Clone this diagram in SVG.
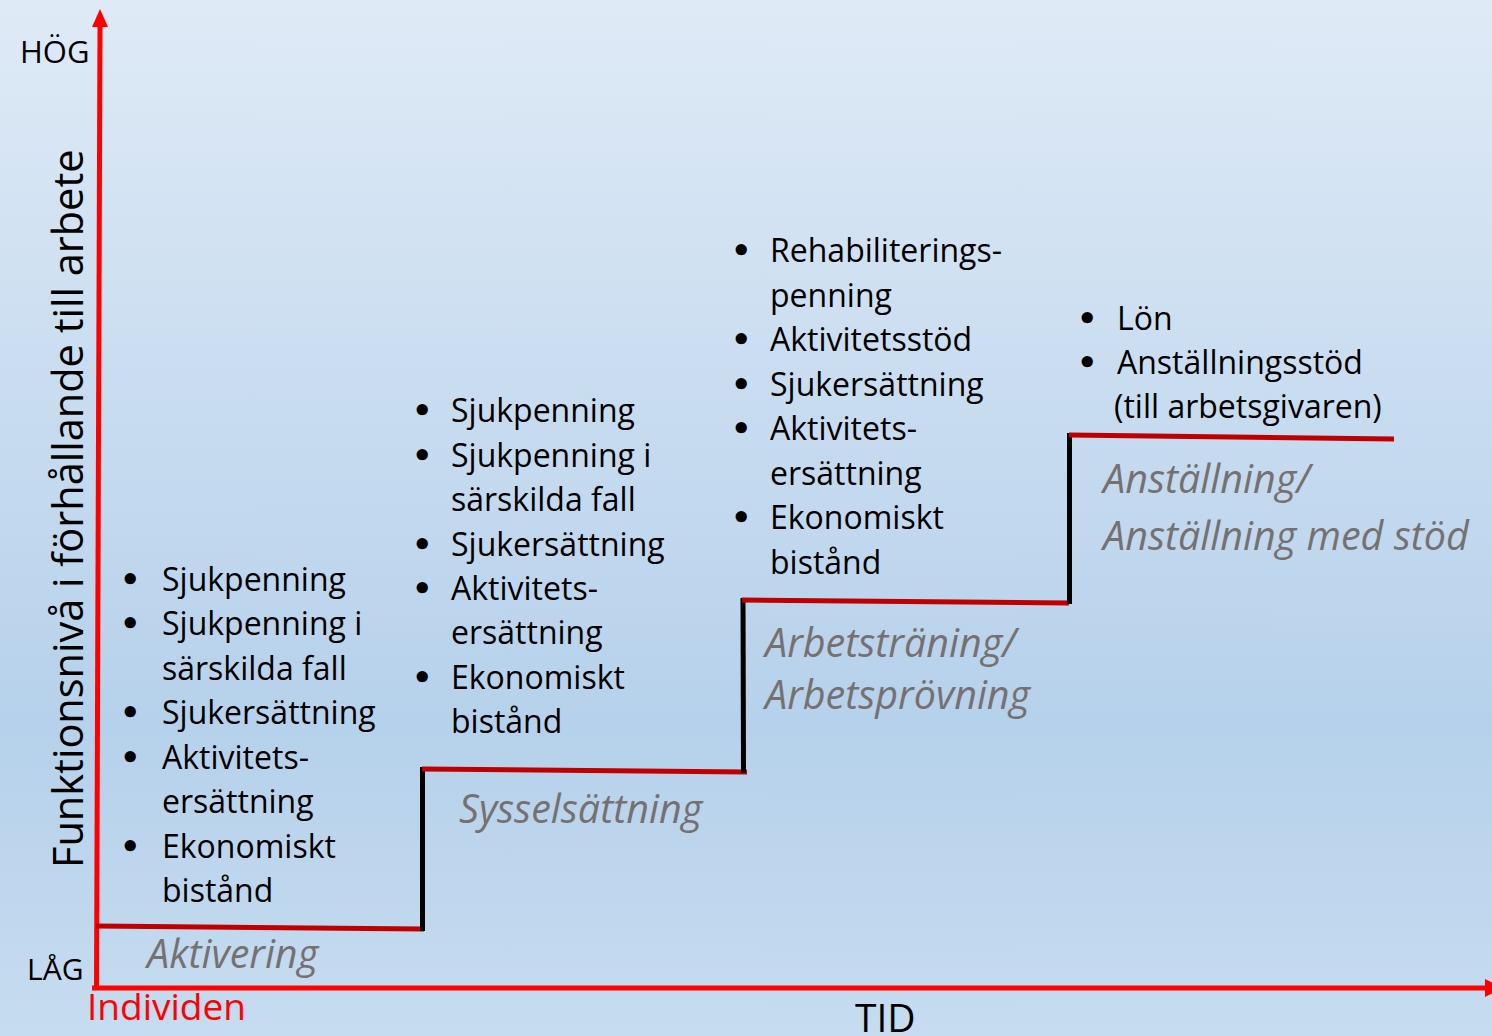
<svg xmlns="http://www.w3.org/2000/svg" width="1492" height="1036" viewBox="0 0 1492 1036">
<defs>
<linearGradient id="bg" x1="0" y1="0" x2="0" y2="1">
<stop offset="0" stop-color="#DFEAF6"/>
<stop offset="0.7" stop-color="#B6D1EB"/>
<stop offset="1" stop-color="#C6DCF0"/>
</linearGradient>
<style>
.t{font-family:"Open Sans","Noto Sans","Liberation Sans",sans-serif;fill:#000;}
.b{font-size:32px;}
.bu{font-family:"DejaVu Sans",sans-serif;font-weight:bold;}
.i{font-size:39.5px;font-style:italic;fill:#767171;}
.axis{stroke:#FF0000;stroke-width:5;fill:none;}
.step{stroke:#C00000;stroke-width:5;fill:none;}
.riser{stroke:#000;stroke-width:5;fill:none;}
</style>
</defs>
<rect width="1492" height="1036" fill="url(#bg)"/>
<g id="connectors">
<line class="axis" x1="96.5" y1="989" x2="100" y2="24"/>
<polygon points="100,9 92,27 108,27" fill="#FF0000"/>
<line class="axis" x1="92" y1="988" x2="1487" y2="988"/>
<polygon points="1485,979 1485,997 1503,988" fill="#FF0000"/>
<line class="step" x1="96" y1="926" x2="424" y2="929"/>
<line class="riser" x1="422.5" y1="767" x2="422.5" y2="931"/>
<line class="step" x1="422" y1="769" x2="747" y2="772"/>
<line class="riser" x1="743" y1="598" x2="743.5" y2="773"/>
<line class="step" x1="742" y1="600" x2="1069" y2="603"/>
<line class="riser" x1="1069.5" y1="433" x2="1069.5" y2="604"/>
<line class="step" x1="1069" y1="435" x2="1394" y2="439"/>
</g>
<g id="y-axis-labels">
<text class="t" x="20" y="63" font-size="31">HÖG</text>
<text class="t" x="27" y="980" font-size="30">LÅG</text>
<text class="t" transform="translate(83,868) rotate(-90)" font-size="41.5">Funktionsnivå i förhållande till arbete</text>
</g>
<g id="x-axis-labels">
<text class="t" x="87" y="1020" font-size="37" style="fill:#FF0000">Individen</text>
<text class="t" x="855" y="1032" font-size="39">TID</text>
</g>
<g id="step-aktivering">
<g class="t b">
<text y="591"><tspan class="bu" x="120">•</tspan><tspan x="162">Sjukpenning</tspan></text>
<text y="635"><tspan class="bu" x="120">•</tspan><tspan x="162">Sjukpenning i</tspan></text>
<text x="162" y="680">särskilda fall</text>
<text y="724"><tspan class="bu" x="120">•</tspan><tspan x="162">Sjukersättning</tspan></text>
<text y="769"><tspan class="bu" x="120">•</tspan><tspan x="162">Aktivitets-</tspan></text>
<text x="162" y="813">ersättning</text>
<text y="858"><tspan class="bu" x="120">•</tspan><tspan x="162">Ekonomiskt</tspan></text>
<text x="162" y="902">bistånd</text>
</g>
<text class="t i" x="147" y="968">Aktivering</text>
</g>
<g id="step-sysselsattning">
<g class="t b">
<text y="422"><tspan class="bu" x="412">•</tspan><tspan x="451">Sjukpenning</tspan></text>
<text y="467"><tspan class="bu" x="412">•</tspan><tspan x="451">Sjukpenning i</tspan></text>
<text x="451" y="511">särskilda fall</text>
<text y="556"><tspan class="bu" x="412">•</tspan><tspan x="451">Sjukersättning</tspan></text>
<text y="600"><tspan class="bu" x="412">•</tspan><tspan x="451">Aktivitets-</tspan></text>
<text x="451" y="644">ersättning</text>
<text y="689"><tspan class="bu" x="412">•</tspan><tspan x="451">Ekonomiskt</tspan></text>
<text x="451" y="733">bistånd</text>
</g>
<text class="t i" x="459" y="823">Sysselsättning</text>
</g>
<g id="step-arbetstraning">
<g class="t b">
<text y="262"><tspan class="bu" x="731">•</tspan><tspan x="770">Rehabiliterings-</tspan></text>
<text x="770" y="307">penning</text>
<text y="351"><tspan class="bu" x="731">•</tspan><tspan x="770">Aktivitetsstöd</tspan></text>
<text y="396"><tspan class="bu" x="731">•</tspan><tspan x="770">Sjukersättning</tspan></text>
<text y="440"><tspan class="bu" x="731">•</tspan><tspan x="770">Aktivitets-</tspan></text>
<text x="770" y="485">ersättning</text>
<text y="529"><tspan class="bu" x="731">•</tspan><tspan x="770">Ekonomiskt</tspan></text>
<text x="770" y="574">bistånd</text>
</g>
<text class="t i" x="765" y="657">Arbetsträning/</text>
<text class="t i" x="765" y="709">Arbetsprövning</text>
</g>
<g id="step-anstallning">
<g class="t b">
<text y="330"><tspan class="bu" x="1077">•</tspan><tspan x="1117">Lön</tspan></text>
<text y="374"><tspan class="bu" x="1077">•</tspan><tspan x="1117">Anställningsstöd</tspan></text>
<text x="1114" y="418">(till arbetsgivaren)</text>
</g>
<text class="t i" x="1103" y="493">Anställning/</text>
<text class="t i" x="1103" y="550">Anställning med stöd</text>
</g>
</svg>
